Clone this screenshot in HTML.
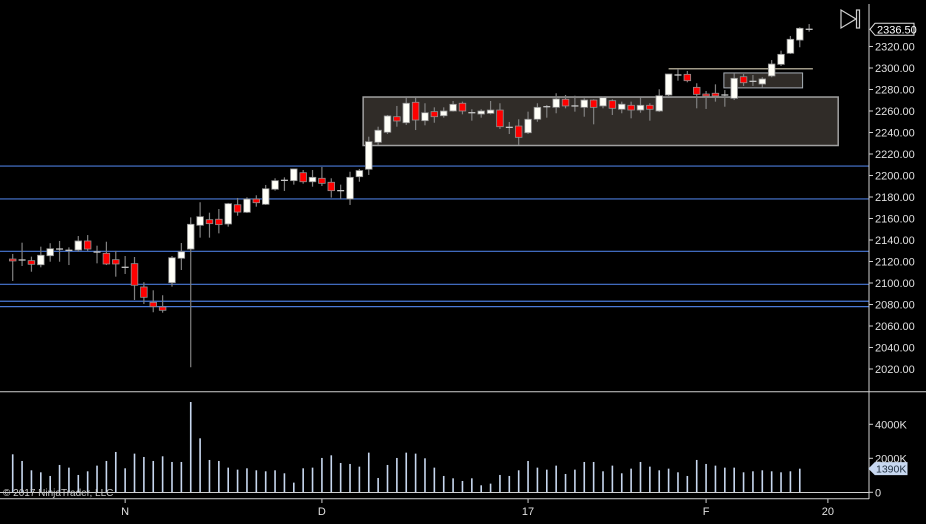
<!DOCTYPE html>
<html><head><meta charset="utf-8"><style>
html,body{margin:0;padding:0;background:#000;}
svg{display:block;font-family:"Liberation Sans",sans-serif;}
</style></head><body>
<svg id="chart" width="926" height="524" viewBox="0 0 926 524" xmlns="http://www.w3.org/2000/svg">
<rect width="926" height="524" fill="#000"/>
<g id="zones"></g><g id="hlines"></g><g id="candles"></g><g id="vol"></g><g id="axes"></g>
</svg>
<script>
const opens=[2122.3,2121.4,2120.8,2117.0,2125.4,2131.6,2130.4,2130.7,2139.1,2128.8,2127.6,2121.7,2114.6,2118.0,2096.3,2082.0,2077.7,2100.3,2123.0,2131.6,2153.7,2158.9,2159.3,2154.9,2172.8,2165.8,2178.1,2173.2,2187.2,2195.5,2195.2,2202.6,2194.2,2197.4,2193.7,2185.9,2178.2,2198.9,2205.8,2230.9,2240.2,2254.7,2249.1,2268.1,2251.0,2259.4,2255.6,2260.0,2267.2,2258.4,2257.2,2257.8,2260.9,2244.8,2246.0,2239.8,2252.3,2264.0,2263.4,2270.9,2264.7,2263.4,2270.2,2264.7,2269.6,2261.6,2265.3,2260.9,2265.3,2260.0,2274.9,2293.5,2294.1,2282.0,2275.8,2276.5,2274.9,2271.8,2291.9,2287.6,2285.1,2292.6,2303.4,2313.7,2326.0,2336.0];
const highs=[2127.0,2137.5,2124.5,2133.8,2137.0,2139.1,2133.2,2143.7,2144.6,2134.7,2138.4,2129.8,2125.1,2124.2,2100.7,2093.2,2088.6,2125.1,2137.2,2161.1,2175.1,2165.4,2168.8,2174.5,2179.1,2179.7,2181.6,2191.2,2197.4,2198.3,2206.1,2205.1,2205.1,2207.9,2197.4,2191.5,2203.5,2206.1,2236.1,2245.4,2256.3,2264.7,2272.8,2272.8,2267.2,2263.4,2263.4,2269.3,2268.7,2261.6,2261.6,2269.3,2267.2,2249.8,2252.3,2259.4,2267.2,2265.6,2276.5,2274.9,2274.2,2271.8,2270.9,2273.3,2270.9,2268.7,2268.7,2272.4,2267.2,2280.2,2294.4,2299.1,2297.2,2285.8,2278.6,2284.8,2279.5,2295.1,2294.4,2293.5,2291.4,2307.4,2316.1,2329.8,2337.9,2340.9];
const lows=[2101.9,2115.8,2110.5,2114.6,2119.8,2119.8,2116.7,2129.1,2129.8,2118.3,2116.7,2105.9,2108.4,2084.2,2080.5,2072.8,2072.4,2096.6,2112.1,2021.6,2142.2,2142.2,2146.2,2152.4,2162.6,2165.1,2171.0,2172.6,2185.9,2185.6,2191.5,2192.4,2189.6,2190.2,2179.4,2178.2,2172.6,2194.2,2200.5,2228.4,2238.6,2245.4,2247.0,2242.3,2246.7,2249.1,2253.8,2259.4,2256.9,2251.0,2253.8,2256.9,2243.3,2238.6,2228.4,2238.6,2250.0,2253.8,2257.9,2262.5,2259.4,2254.7,2247.6,2262.5,2256.3,2257.9,2253.2,2258.4,2251.0,2259.1,2274.0,2288.2,2286.7,2262.5,2261.9,2268.7,2264.0,2270.2,2283.3,2283.3,2282.0,2291.4,2301.9,2313.0,2319.3,2333.8];
const closes=[2120.5,2121.4,2117.4,2125.8,2131.9,2131.6,2130.4,2139.1,2131.6,2128.8,2117.7,2117.7,2114.6,2097.9,2086.7,2078.0,2074.6,2123.5,2129.1,2154.6,2161.7,2155.2,2154.3,2173.8,2166.0,2178.1,2174.7,2187.7,2195.2,2195.5,2206.1,2194.2,2198.3,2192.7,2185.9,2185.9,2198.3,2204.6,2231.5,2242.1,2255.4,2250.7,2267.2,2251.6,2258.4,2254.7,2260.0,2266.2,2260.0,2258.4,2260.0,2260.9,2245.4,2244.8,2235.5,2252.3,2263.4,2264.0,2271.2,2264.7,2264.7,2270.2,2263.4,2272.4,2262.5,2266.3,2260.9,2265.3,2261.6,2274.2,2294.4,2293.5,2288.2,2275.5,2274.0,2274.0,2274.9,2290.4,2286.3,2287.6,2289.8,2303.7,2312.7,2326.7,2336.9,2336.0];
const volumes=[2235,1843,1294,1176,961,1608,1451,1020,1235,1569,1843,2373,1412,2275,2078,1843,2118,1784,1784,5314,3176,1902,1843,1451,1333,1412,1294,1235,1294,1118,569,1412,1451,2020,2176,1725,1667,1510,2333,843,1608,2020,2333,2275,2000,1451,961,823,666,823,412,510,1020,961,1294,1843,1451,1333,1569,1078,1333,1784,1784,1235,1569,1118,1392,1784,1510,1294,1392,1176,961,1902,1667,1569,1451,1451,1176,1235,1294,1235,1176,1235,1390];
const priceTicks=[2320,2300,2280,2260,2240,2220,2200,2180,2160,2140,2120,2100,2080,2060,2040,2020];
const volTicks=[4000,2000,0];
const volTickLabels=["4000K","2000K","0"];
const dateIdx=[12,33,55,74,87];
const dateLabels=["N","D","17","F","20"];
const levels=[2208.8,2178.2,2129.5,2098.8,2083.0,2078.0];
const bigZone=[2273.0,2227.9,37.4,88.1];
const smallZone=[2295.4,2281.5,75.9,84.3];
const resistance=[2299.3,70.0,85.4];
const lastPrice="2336.50", lastVol="1390K";

const NS="http://www.w3.org/2000/svg";
const X=i=>12.7+i*9.37;
const Y=p=>46.5+(2320-p)*1.075;
const VY=v=>492.3-v*0.017;
function mk(tag,attrs,parent){const e=document.createElementNS(NS,tag);for(const k in attrs)e.setAttribute(k,attrs[k]);parent.appendChild(e);return e;}
const G=id=>document.getElementById(id);

let z=mk('rect',{x:X(bigZone[2]),y:Y(bigZone[0]),width:X(bigZone[3])-X(bigZone[2]),height:Y(bigZone[1])-Y(bigZone[0]),fill:'#302c28',stroke:'#a0a0a0','stroke-width':1.5},G('zones'));


z=mk('rect',{x:X(smallZone[2]),y:Y(smallZone[0]),width:X(smallZone[3])-X(smallZone[2]),height:Y(smallZone[1])-Y(smallZone[0]),fill:'#302c28',stroke:'#a8b0b8','stroke-width':1},G('zones'));


z=mk('line',{x1:X(resistance[1]),x2:X(resistance[2]),y1:Y(resistance[0]),y2:Y(resistance[0]),stroke:'#a09a88','stroke-width':1.5},G('zones'));


levels.forEach(p=>{const l=mk('line',{x1:0,x2:869,y1:Y(p),y2:Y(p),stroke:'#4a7ad8','stroke-width':1.2},G('hlines'));

});

opens.forEach((o,i)=>{const c=closes[i],x=X(i);
 const g=mk('g',{},G('candles'));
 
 
 mk('line',{x1:x,x2:x,y1:Y(highs[i]),y2:Y(lows[i]),stroke:'#808080','stroke-width':1.2},g);
 const top=Y(Math.max(o,c)),bot=Y(Math.min(o,c));
 if(bot-top<1.2){mk('line',{x1:x-3.5,x2:x+3.5,y1:top,y2:top,stroke:'#c8c8c8','stroke-width':1.3},g);}
 else mk('rect',{x:x-3.3,y:top,width:6.6,height:bot-top,fill:c>=o?'#fffff8':'#ff0000',stroke:'#909090','stroke-width':0.8},g);
});
volumes.forEach((v,i)=>{const b=mk('line',{x1:X(i),x2:X(i),y1:VY(0),y2:VY(v),stroke:'#c8d8f0','stroke-width':1.6},G('vol'));

});

const A=G('axes');
mk('line',{x1:869,x2:869,y1:4,y2:499,stroke:'#d0d0d0','stroke-width':1},A);
mk('line',{x1:0,x2:926,y1:391.7,y2:391.7,stroke:'#d0d0d0','stroke-width':1},A);
mk('line',{x1:0,x2:869,y1:492.5,y2:492.5,stroke:'#d0d0d0','stroke-width':1},A);
mk('line',{x1:0,x2:869,y1:498.7,y2:498.7,stroke:'#d0d0d0','stroke-width':1},A);
priceTicks.forEach(p=>{mk('line',{x1:869,x2:873,y1:Y(p),y2:Y(p),stroke:'#d0d0d0'},A);
 const t=mk('text',{x:875,y:Y(p)+4,fill:'#e0e0e0','font-size':11},A);t.textContent=p.toFixed(2);
 
 });
volTicks.forEach((v,i)=>{mk('line',{x1:869,x2:873,y1:VY(v),y2:VY(v),stroke:'#d0d0d0'},A);
 const t=mk('text',{x:875,y:VY(v)+4,fill:'#e0e0e0','font-size':11},A);t.textContent=volTickLabels[i];
 
 });
dateIdx.forEach((d,i)=>{mk('line',{x1:X(d),x2:X(d),y1:499,y2:503,stroke:'#d0d0d0'},A);
 const t=mk('text',{x:X(d),y:515,fill:'#e0e0e0','font-size':11,'text-anchor':'middle'},A);t.textContent=dateLabels[i];
 
 });
const lp=Y(closes[closes.length-1]);
let tag=mk('g',{},A);


mk('path',{d:`M870 ${lp} L875 ${lp-6} H914 V${lp+6} H875 Z`,fill:'#000',stroke:'#e0e0e0','stroke-width':1},tag);
let tt=mk('text',{x:877,y:lp+4,fill:'#fff','font-size':11},tag);tt.textContent=lastPrice;
const lv=VY(volumes[volumes.length-1]);
tag=mk('g',{},A);


mk('path',{d:`M869 ${lv} L875 ${lv-6} H907 V${lv+6} H875 Z`,fill:'#c8d8f0',stroke:'#c8d8f0'},tag);
tt=mk('text',{x:876,y:lv+4,fill:'#203040','font-size':10.5},tag);tt.textContent=lastVol;
const pi=mk('g',{fill:'none',stroke:'#d0d0d0','stroke-width':1.2},A);


mk('path',{d:'M841 10 L856 19 L841 28 Z'},pi);
mk('rect',{x:856.5,y:10,width:3,height:18},pi);
const cp=mk('text',{x:3,y:496,fill:'#c8c8c8','font-size':10},A);cp.textContent='© 2017 NinjaTrader, LLC';


</script>
</body></html>
